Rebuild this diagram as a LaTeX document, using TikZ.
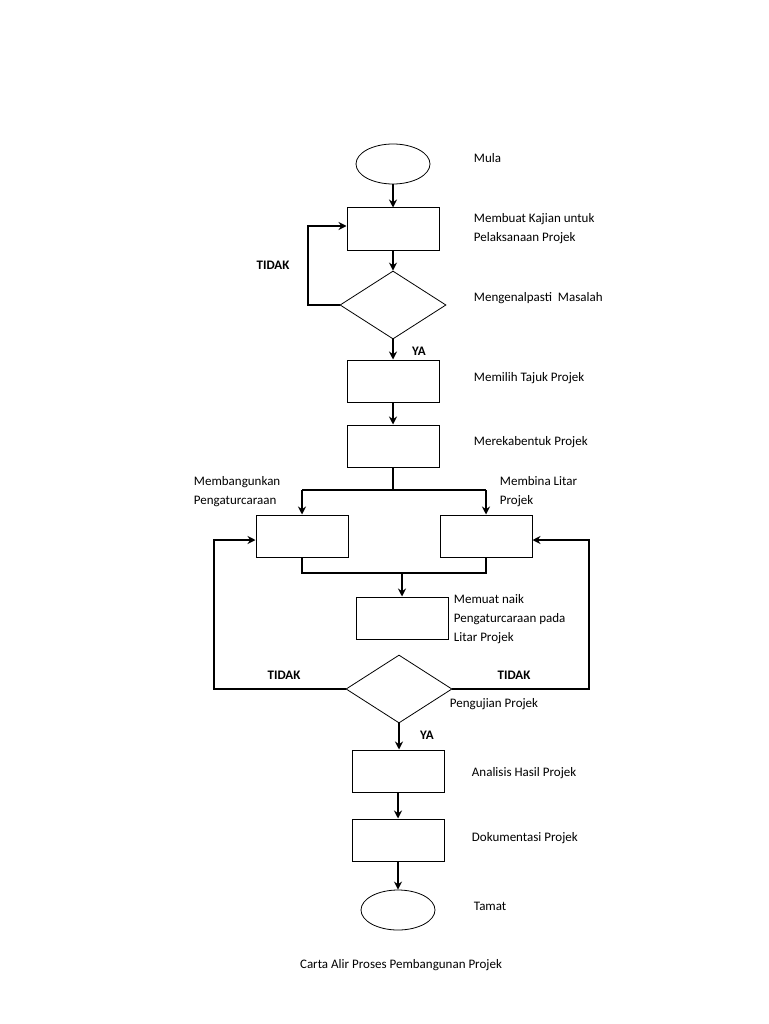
\documentclass[tikz,border=0pt]{standalone}
\usepackage{fontspec}
\setmainfont{Carlito}
\usetikzlibrary{shapes.geometric,arrows.meta}
\begin{document}
\begin{tikzpicture}[x=1pt,y=-1pt,line width=1.2pt,
  box/.style={draw,line width=1pt,minimum width=92pt,minimum height=42pt,inner sep=0pt},
  term/.style={draw,line width=0.8pt,ellipse,minimum width=74pt,minimum height=40pt,inner sep=0pt},
  dec/.style={draw,line width=0.8pt,diamond,minimum width=106pt,minimum height=68pt,inner sep=0pt,aspect=1.56},
  lbl/.style={anchor=west,font=\fontsize{13}{19}\selectfont,align=left},
  yn/.style={font=\bfseries\fontsize{13}{15}\selectfont},
  ln/.style={line width=1.6pt},
  ar/.style={line width=1.6pt,-{Stealth[length=8pt,width=8pt]}}]
\useasboundingbox (0,0) rectangle (768,1024);
\node[term] (s) at (393,164) {};
\node[box] (r1) at (393,229) {};
\node[dec] (d1) at (393,305) {};
\node[box] (r2) at (393,381) {};
\node[box] (r3) at (393,446) {};
\node[box] (rl) at (302,536) {};
\node[box] (rr) at (486,536) {};
\node[box] (r4) at (402,618) {};
\node[dec] (d2) at (399,689) {};
\node[box] (r5) at (398,771) {};
\node[box] (r6) at (398,840) {};
\node[term] (e) at (398,910) {};
\coordinate (c1) at (308,305); \coordinate (c2) at (308,226);
\coordinate (sp) at (393,490); \coordinate (spl) at (302,490); \coordinate (spr) at (486,490);
\coordinate (jl) at (302,573); \coordinate (jr) at (486,573); \coordinate (jm) at (402,573);
\coordinate (ll) at (214,689); \coordinate (lu) at (214,540);
\coordinate (rl2) at (589,689); \coordinate (ru) at (589,540);
\draw[ar] (s) -- (r1);
\draw[ar] (r1) -- (d1);
\draw[ar] (d1.west) -- (c1) -- (c2) -- (r1.west |- c2);
\draw[ar] (d1) -- (r2);
\draw[ar] (r2) -- (r3);
\draw[ln] (r3.south) -- (sp);
\draw[ln] (spl) -- (spr);
\draw[ar] (spl) -- (rl);
\draw[ar] (spr) -- (rr);
\draw[ln] (rl.south) -- (jl) -- (jr) -- (rr.south);
\draw[ar] (jm) -- (r4);
\draw[ar] (d2.west) -- (ll) -- (lu) -- (rl.west |- lu);
\draw[ar] (d2.east) -- (rl2) -- (ru) -- (rr.east |- ru);
\draw[ar] (d2.south) -- (d2.south |- r5.north);
\draw[ar] (r5) -- (r6);
\draw[ar] (r6) -- (e);
\node[lbl] at (470,158) {Mula};
\node[lbl] at (470,229) {Membuat Kajian untuk\\Pelaksanaan Projek};
\node[lbl] at (470,298) {Mengenalpasti\ \ Masalah};
\node[lbl] at (470,378) {Memilih Tajuk Projek};
\node[lbl] at (470,442) {Merekabentuk Projek};
\node[lbl] at (190,492) {Membangunkan\\Pengaturcaraan};
\node[lbl] at (496,492) {Membina Litar\\Projek};
\node[lbl] at (450,619) {Memuat naik\\Pengaturcaraan pada\\Litar Projek};
\node[lbl] at (446,704) {Pengujian Projek};
\node[lbl] at (468,773) {Analisis Hasil Projek};
\node[lbl] at (468,838) {Dokumentasi Projek};
\node[lbl] at (470,906) {Tamat};
\node[font=\fontsize{13}{15}\selectfont] at (401,965) {Carta Alir Proses Pembangunan Projek};
\node[yn] at (273,265) {TIDAK};
\node[yn] at (419,351) {YA};
\node[yn] at (284,675) {TIDAK};
\node[yn] at (514,675) {TIDAK};
\node[yn] at (427,735) {YA};
\end{tikzpicture}
\end{document}
